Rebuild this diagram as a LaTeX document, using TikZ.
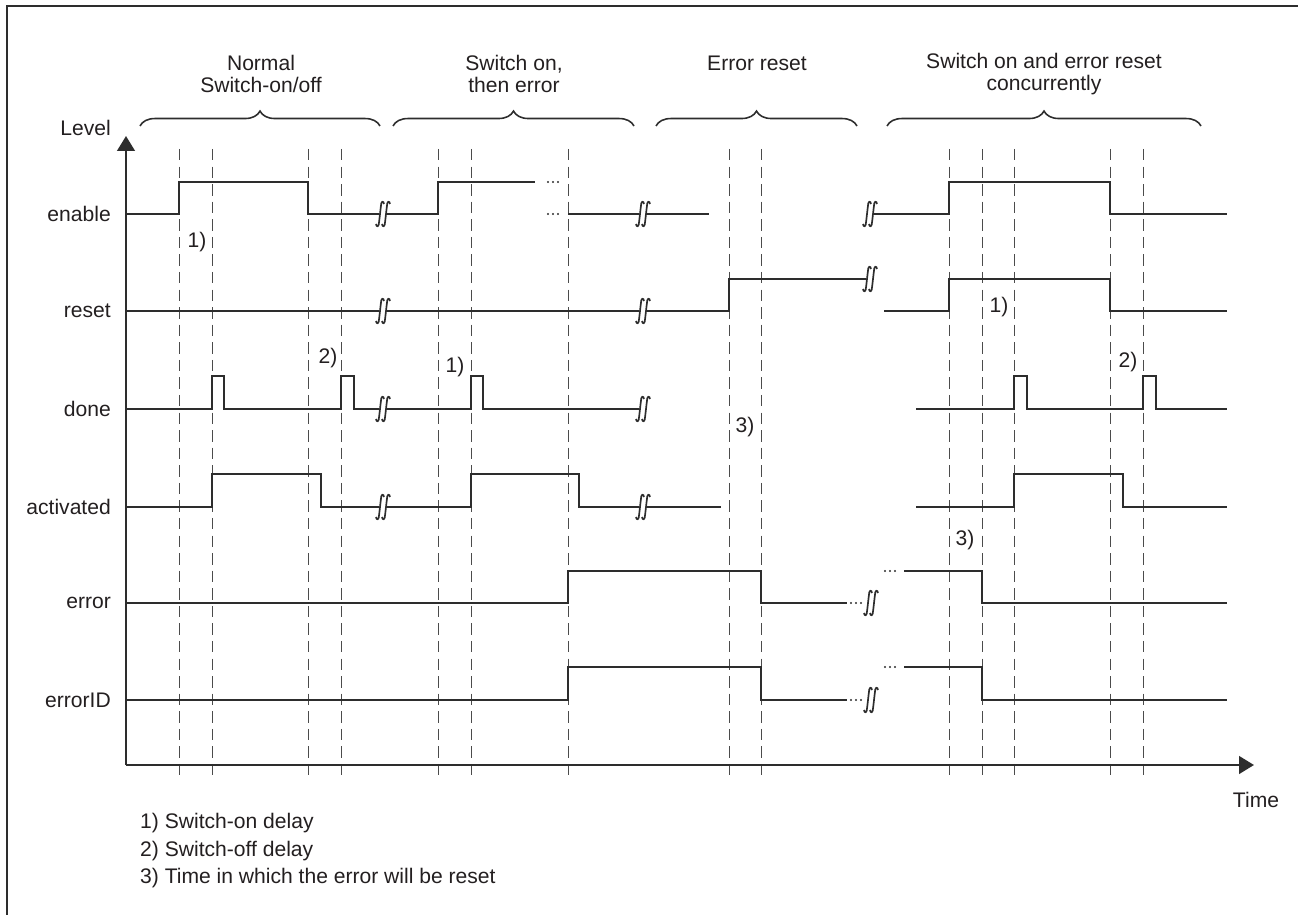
\documentclass[tikz,border=0pt]{standalone}
\usepackage{fontspec}
\setmainfont{Liberation Sans}
\usetikzlibrary{
    arrows.meta,
    decorations.pathreplacing
}
\definecolor{ink}{RGB}{35,31,32}
\definecolor{wire}{RGB}{45,45,45}
\definecolor{gridgray}{RGB}{75,75,75}
\tikzset{
    sig/.style={
        draw=wire,
        line width=1.1pt,
        line join=miter
    },
    gridline/.style={
        draw=gridgray,
        line width=0.55pt,
        dash pattern=on 6.5pt off 3.5pt
    },
    axisline/.style={
        draw=wire,
        line width=1.4pt,
        -{Triangle[length=8.5pt, width=10pt]}
    },
    framebox/.style={
        draw=wire,
        line width=1.2pt
    },
    phase/.style={
        draw=wire,
        line width=0.9pt,
        decorate,
        decoration={brace, amplitude=8.5pt}
    },
    phaselabel/.style={
        align=center,
        text=ink
    },
    siglabel/.style={
        anchor=east,
        text=ink
    },
    delay/.style={
        text=ink
    },
    note/.style={
        anchor=west,
        text=ink
    },
    brk/.pic={
        \foreach \dx in {-3, 3}
            \draw[wire, line width=0.95pt]
                (\dx-4, 10) .. controls (\dx-3.5, 13.5) and (\dx-1, 13.5) .. (\dx-0.8, 7)
                -- (\dx+0.8, -7) .. controls (\dx+1, -13.5) and (\dx+3.5, -13.5) .. (\dx+4, -10);
    },
    dots/.pic={
        \foreach \d in {-5, 0, 5}
            \fill[wire] (\d, 0) circle (0.6pt);
    }
}

\begin{document}
\begin{tikzpicture}[
    x=0.02cm, y=-0.02cm,
    every node/.style={font=\fontsize{12}{12.5}\selectfont}
]
\useasboundingbox (0, 0) rectangle (1298, 915);

% frame
\draw[framebox] (7, 915) -- (7, 6) -- (1298, 6);

% phases
\draw[phase] (140, 126) -- (380, 126);
\draw[phase] (393, 126) -- (634, 126);
\draw[phase] (656, 126) -- (857, 126);
\draw[phase] (887, 126) -- (1201, 126);
\node[phaselabel] (ph-normal) at (261, 74) {Normal\\Switch-on/off};
\node[phaselabel] (ph-error) at (514, 74) {Switch on,\\then error};
\node[phaselabel] (ph-reset) at (757, 63) {Error reset};
\node[phaselabel] (ph-both) at (1044, 74) {Switch on and error reset\\concurrently};

% time markers
\foreach \x in {179, 212, 308, 341, 438, 471, 568, 729, 761, 949, 982, 1014, 1110, 1143}
    \draw[gridline] (\x, 149) -- (\x, 778);

% axes
\draw[axisline] (126, 765) -- (126, 136);
\draw[axisline] (126, 765) -- (1254, 765);
\node[siglabel] (lvl) at (117, 128) {Level};
\node[delay] (time) at (1256, 800) {Time};

% signal names
\node[siglabel] (enable) at (117, 214) {enable};
\node[siglabel] (reset) at (117, 311) {reset};
\node[siglabel] (done) at (117, 409) {done};
\node[siglabel] (activated) at (117, 507) {activated};
\node[siglabel] (error) at (117, 603) {error};
\node[siglabel] (errorid) at (117, 700) {errorID};

% enable
\draw[sig] (126, 214) -- (179, 214) -- (179, 182) -- (308, 182) -- (308, 214) -- (379, 214);
\draw[sig] (387, 214) -- (438, 214) -- (438, 182) -- (535, 182);
\pic at (553, 182) {dots};
\pic at (553, 214) {dots};
\draw[sig] (568, 214) -- (639, 214);
\draw[sig] (647, 214) -- (709, 214);
\draw[sig] (874, 214) -- (949, 214) -- (949, 182) -- (1110, 182) -- (1110, 214) -- (1227, 214);
\pic at (383, 214) {brk};
\pic at (643, 214) {brk};
\pic at (870, 214) {brk};

% reset
\draw[sig] (126, 311) -- (379, 311);
\draw[sig] (387, 311) -- (639, 311);
\draw[sig] (647, 311) -- (729, 311) -- (729, 279) -- (866, 279);
\draw[sig] (884, 311) -- (949, 311) -- (949, 279) -- (1110, 279) -- (1110, 311) -- (1227, 311);
\pic at (383, 311) {brk};
\pic at (643, 311) {brk};
\pic at (870, 279) {brk};

% done
\draw[sig] (126, 409) -- (212, 409) -- (212, 376) -- (224, 376) -- (224, 409)
    -- (341, 409) -- (341, 376) -- (354, 376) -- (354, 409) -- (379, 409);
\draw[sig] (387, 409) -- (471, 409) -- (471, 376) -- (483, 376) -- (483, 409) -- (639, 409);
\draw[sig] (916, 409) -- (1014, 409) -- (1014, 376) -- (1027, 376) -- (1027, 409)
    -- (1143, 409) -- (1143, 376) -- (1156, 376) -- (1156, 409) -- (1227, 409);
\pic at (383, 409) {brk};
\pic at (643, 409) {brk};

% activated
\draw[sig] (126, 507) -- (212, 507) -- (212, 474) -- (321, 474) -- (321, 507) -- (379, 507);
\draw[sig] (387, 507) -- (471, 507) -- (471, 474) -- (579, 474) -- (579, 507) -- (639, 507);
\draw[sig] (647, 507) -- (721, 507);
\draw[sig] (916, 507) -- (1014, 507) -- (1014, 474) -- (1123, 474) -- (1123, 507) -- (1227, 507);
\pic at (383, 507) {brk};
\pic at (643, 507) {brk};

% error
\draw[sig] (126, 603) -- (568, 603) -- (568, 571) -- (761, 571) -- (761, 603) -- (847, 603);
\pic at (856, 603) {dots};
\pic at (871, 603) {brk};
\pic at (890, 571) {dots};
\draw[sig] (904, 571) -- (982, 571) -- (982, 603) -- (1227, 603);

% errorID
\draw[sig] (126, 700) -- (568, 700) -- (568, 667) -- (761, 667) -- (761, 700) -- (847, 700);
\pic at (856, 700) {dots};
\pic at (871, 700) {brk};
\pic at (890, 667) {dots};
\draw[sig] (904, 667) -- (982, 667) -- (982, 700) -- (1227, 700);

% delays
\node[delay] (d1a) at (197, 242) {1)};
\node[delay] (d2a) at (328, 358) {2)};
\node[delay] (d1b) at (455, 367) {1)};
\node[delay] (d3a) at (745, 427) {3)};
\node[delay] (d1c) at (999, 307) {1)};
\node[delay] (d2c) at (1128, 362) {2)};
\node[delay] (d3c) at (965, 540) {3)};

% notes
\node[note] (n1) at (134, 823) {1) Switch-on delay};
\node[note] (n2) at (134, 851) {2) Switch-off delay};
\node[note] (n3) at (134, 878) {3) Time in which the error will be reset};
\end{tikzpicture}
\end{document}
